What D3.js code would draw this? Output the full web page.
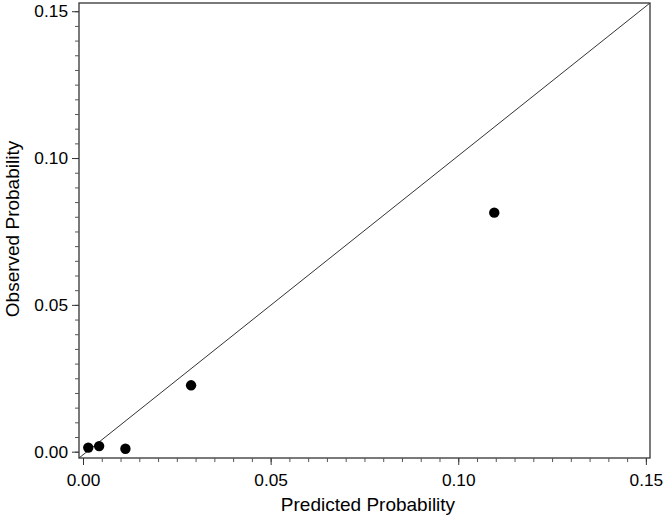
<!DOCTYPE html>
<html>
<head>
<meta charset="utf-8">
<script src="https://cdn.jsdelivr.net/npm/d3@7"></script>
<style>
  body { margin: 0; background: #fff; }
  svg { display: block; }
  text { font-family: "Liberation Sans", Arial, sans-serif; fill: #000; }
</style>
</head>
<body>
<svg id="chart" width="666" height="519"></svg>
<script>
// Data
const predicted = [0.0014, 0.0043, 0.0113, 0.0288, 0.1096];
const observed  = [0.0014, 0.0019, 0.0010, 0.0226, 0.0814];
const xTicks = [0.00, 0.05, 0.10, 0.15];
const yTicks = [0.00, 0.05, 0.10, 0.15];
const xLabel = "Predicted Probability";
const yLabel = "Observed Probability";

const svg = d3.select("#chart");
const plot = { left: 79, right: 650, top: 3, bottom: 458 };

const x = d3.scaleLinear().domain([-0.00107, 0.1511]).range([plot.left, plot.right]);
const y = d3.scaleLinear().domain([-0.00215, 0.1528]).range([plot.bottom, plot.top]);

// clip
svg.append("clipPath").attr("id", "clip")
  .append("rect").attr("x", plot.left).attr("y", plot.top)
  .attr("width", plot.right - plot.left).attr("height", plot.bottom - plot.top);

// Frame
svg.append("rect")
  .attr("x", plot.left).attr("y", plot.top)
  .attr("width", plot.right - plot.left).attr("height", plot.bottom - plot.top)
  .attr("fill", "none").attr("stroke", "#333").attr("stroke-width", 1.3);

// Diagonal reference line
svg.append("line")
  .attr("clip-path", "url(#clip)")
  .attr("x1", x(x.domain()[0])).attr("y1", y(y.domain()[0]))
  .attr("x2", x(x.domain()[1])).attr("y2", y(y.domain()[1]))
  .attr("stroke", "#333").attr("stroke-width", 1);

// Minor ticks
const minor = d3.range(0, 0.1501, 0.005);
const xAxisMinor = d3.axisBottom(x).tickValues(minor).tickSize(4).tickFormat("");
const yAxisMinor = d3.axisLeft(y).tickValues(minor).tickSize(4).tickFormat("");
svg.append("g").attr("transform", `translate(0,${plot.bottom})`).call(xAxisMinor)
  .call(g => g.select(".domain").remove())
  .selectAll("line").attr("stroke", "#555");
svg.append("g").attr("transform", `translate(${plot.left},0)`).call(yAxisMinor)
  .call(g => g.select(".domain").remove())
  .selectAll("line").attr("stroke", "#555");

// Major ticks
const xAxis = d3.axisBottom(x).tickValues(xTicks).tickSize(7).tickPadding(9).tickFormat(d3.format(".2f"));
const yAxis = d3.axisLeft(y).tickValues(yTicks).tickSize(7).tickPadding(4).tickFormat(d3.format(".2f"));
const gx = svg.append("g").attr("transform", `translate(0,${plot.bottom})`).call(xAxis);
gx.select(".domain").remove();
gx.selectAll("line").attr("stroke", "#333");
gx.selectAll("text").style("font-size", "17.3px").style("font-family", "Liberation Sans, Arial, sans-serif").attr("fill", "#000");
const gy = svg.append("g").attr("transform", `translate(${plot.left},0)`).call(yAxis);
gy.select(".domain").remove();
gy.selectAll("line").attr("stroke", "#333");
gy.selectAll("text").style("font-size", "17.3px").style("font-family", "Liberation Sans, Arial, sans-serif").attr("fill", "#000");

// Points
svg.append("g").selectAll("circle")
  .data(predicted.map((p, i) => [p, observed[i]]))
  .join("circle")
  .attr("cx", d => x(d[0])).attr("cy", d => y(d[1]))
  .attr("r", 5.2).attr("fill", "#000");

// Axis labels
svg.append("text")
  .attr("x", 368).attr("y", 511)
  .attr("text-anchor", "middle").style("font-size", "19px")
  .text(xLabel);
svg.append("text")
  .attr("transform", `translate(19,229) rotate(-90)`)
  .attr("text-anchor", "middle").style("font-size", "19px")
  .text(yLabel);
</script>
</body>
</html>
